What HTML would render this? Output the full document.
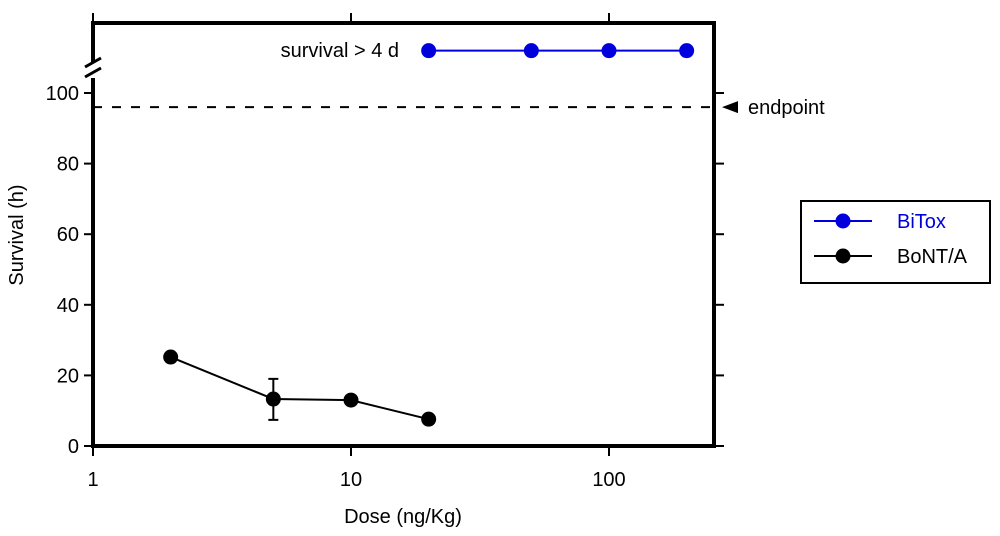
<!DOCTYPE html>
<html><head><meta charset="utf-8"><style>
body{margin:0;background:#fff;}
svg{display:block;font-family:"Liberation Sans",sans-serif;}
</style></head><body>
<svg id="chart" width="1000" height="536" viewBox="0 0 1000 536"></svg>
<script>
const bontDoses=[2,5,10,20];
const bontSurvival=[25.2,13.3,13.0,7.6];
const bontErrLow=[null,7.4,null,null];
const bontErrHigh=[null,19.0,null,null];
const bitoxDoses=[20,50,100,200];
const bitoxSurvival=[112,112,112,112];
const yTicks=[0,20,40,60,80,100];
const xTicks=[1,10,100];
const endpointValue=96;

const NS="http://www.w3.org/2000/svg";
const svg=document.getElementById('chart');
const L=93,R=714,T=23,B=446;
function xs(v){return L+Math.log10(v)*258;}
function ys(v){return B-v*3.53;}
function el(tag,attrs,parent){const e=document.createElementNS(NS,tag);for(const k in attrs)e.setAttribute(k,attrs[k]);(parent||svg).appendChild(e);return e;}

// frame
const frame=el('path',{d:`M${L},${B} L${L},${T} L${R},${T} L${R},${B} Z`,fill:'none',stroke:'#000','stroke-width':4});



// axis break
const brk=el('g',{stroke:'#000','stroke-width':3});


el('rect',{x:L-6,y:62,width:12,height:16,fill:'#fff',stroke:'none'},brk);
el('line',{x1:L-8,y1:67,x2:L+8,y2:58},brk);
el('line',{x1:L-8,y1:77,x2:L+8,y2:68},brk);

// y ticks
yTicks.forEach(v=>{
  const y=ys(v);
  const t=el('line',{x1:L-9,y1:y,x2:L,y2:y,stroke:'#000','stroke-width':2});
  
  
  const t2=el('line',{x1:R,y1:y,x2:R+10,y2:y,stroke:'#000','stroke-width':2});
  
  
  const lb=el('text',{x:L-14,y:y+7,'text-anchor':'end','font-size':20});
  lb.textContent=v;
  
  
});
// x ticks
xTicks.forEach(v=>{
  const x=xs(v);
  const t=el('line',{x1:x,y1:B,x2:x,y2:B+10,stroke:'#000','stroke-width':2});
  
  
  const t2=el('line',{x1:x,y1:T,x2:x,y2:T-10,stroke:'#000','stroke-width':2});
  
  
  const lb=el('text',{x:x,y:B+40,'text-anchor':'middle','font-size':20});
  lb.textContent=v;
  
  
});
const xt=el('text',{x:403,y:523,'text-anchor':'middle','font-size':20});
xt.textContent='Dose (ng/Kg)';


const yt=el('text',{x:0,y:0,'text-anchor':'middle','font-size':20,transform:'translate(23,235) rotate(-90)'});
yt.textContent='Survival (h)';



// endpoint
const ep=el('line',{x1:L,y1:ys(endpointValue),x2:R,y2:ys(endpointValue),stroke:'#000','stroke-width':2,'stroke-dasharray':'9,10'});


const ea=el('path',{d:`M722,${ys(endpointValue)} L738,${ys(endpointValue)-6} L738,${ys(endpointValue)+6} Z`,fill:'#000'});


const et=el('text',{x:748,y:ys(endpointValue)+7,'font-size':20});
et.textContent='endpoint';



const st=el('text',{x:399,y:57,'text-anchor':'end','font-size':20});
st.textContent='survival > 4 d';



function series(doses,vals,color,name){
  const g=el('g',{});
  
  
  el('polyline',{points:doses.map((d,i)=>xs(d)+','+ys(vals[i])).join(' '),fill:'none',stroke:color,'stroke-width':2},g);
  doses.forEach((d,i)=>{
    const c=el('circle',{cx:xs(d),cy:ys(vals[i]),r:7.5,fill:color},g);
    
    
  });
  return g;
}
const bg=series(bontDoses,bontSurvival,'#000','bont');
bontDoses.forEach((d,i)=>{
  if(bontErrLow[i]==null)return;
  const x=xs(d);
  const e=el('path',{d:`M${x},${ys(bontErrLow[i])} L${x},${ys(bontErrHigh[i])} M${x-5},${ys(bontErrLow[i])} L${x+5},${ys(bontErrLow[i])} M${x-5},${ys(bontErrHigh[i])} L${x+5},${ys(bontErrHigh[i])}`,stroke:'#000','stroke-width':2,fill:'none'},bg);
  
  
});
series(bitoxDoses,bitoxSurvival,'#0000dd','bitox');

// legend
const lg=el('g',{});


el('rect',{x:801,y:201,width:189,height:82,fill:'#fff',stroke:'#000','stroke-width':2},lg);
[['BiTox','#0000dd',221],['BoNT/A','#000',256]].forEach(([n,c,y])=>{
  const e=el('g',{},lg);
  
  
  el('line',{x1:814,y1:y,x2:872,y2:y,stroke:c,'stroke-width':2},e);
  el('circle',{cx:843,cy:y,r:7.5,fill:c},e);
  const t=el('text',{x:897,y:y+7,'font-size':20,fill:c},e);
  t.textContent=n;
});
</script>
</body></html>
